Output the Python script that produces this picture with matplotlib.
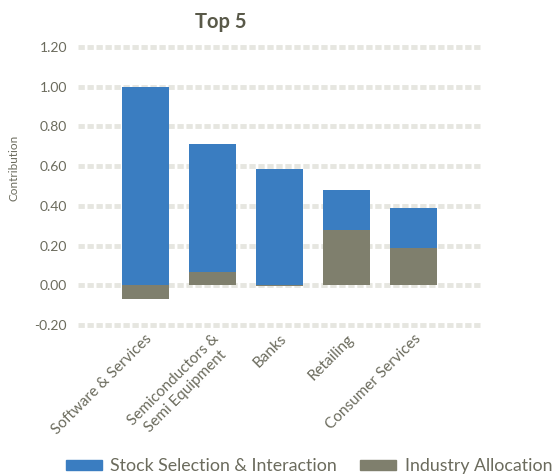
import matplotlib.pyplot as plt
from matplotlib.patches import Patch

categories = ["Software & Services", "Semiconductors &\nSemi Equipment", "Banks",
              "Retailing", "Consumer Services"]
stock_selection = [1.00, 0.645, 0.585, 0.20, 0.20]
industry_alloc = [-0.07, 0.065, -0.005, 0.28, 0.19]
y_ticks = [-0.20, 0.00, 0.20, 0.40, 0.60, 0.80, 1.00, 1.20]

blue = "#3a7dc1"
grey = "#7f7f6d"
text_col = "#6b6b5d"

plt.rcParams['font.family'] = ['Lato', 'DejaVu Sans']

fig = plt.figure(figsize=(5.54, 4.75), dpi=100)
ax = fig.add_axes([78 / 554, 1 - 325 / 475, 403 / 554, 278 / 475])

x = list(range(1, len(categories) + 1))
# excel-style stacking: negatives go below zero, positives on top of positive part
ind_pos = [max(v, 0) for v in industry_alloc]
ax.bar(x, industry_alloc, width=0.7, color=grey, zorder=2)
ax.bar(x, stock_selection, width=0.7, bottom=ind_pos, color=blue, zorder=2)

ax.set_xlim(0, 6)
ax.set_ylim(-0.2, 1.2)
ax.set_yticks(y_ticks)
ax.set_yticklabels(["%.2f" % t for t in y_ticks])
ax.set_xticks(x)
ax.set_xticklabels(categories, rotation=45, ha='right', rotation_mode='anchor',
                   multialignment='center', fontsize=11)

ax.yaxis.grid(True, color="#e6e6e0", linewidth=3.5, linestyle=(0, (1.3, 0.55)))
ax.set_axisbelow(True)
for gl in ax.get_ygridlines():
    gl.set_clip_on(False)

for s in ax.spines.values():
    s.set_visible(False)
ax.tick_params(length=0, colors=text_col)
ax.tick_params(axis='y', pad=8, labelsize=10)
ax.tick_params(axis='x', pad=5)

fig.text(221 / 554, 1 - 22 / 475, "Top 5", fontsize=14.5, fontweight='bold',
         color="#595949", ha='center', va='center')
fig.text(14 / 554, 1 - 168 / 475, "Contribution", rotation=90, fontsize=8.5,
         color=text_col, ha='center', va='center')

handles = [Patch(color=blue, label="Stock Selection & Interaction"),
           Patch(color=grey, label="Industry Allocation")]
fig.legend(handles=handles, loc='center left', bbox_to_anchor=(66 / 554, 1 - 466 / 475),
           ncol=2, frameon=False, fontsize=12.8, borderpad=0, borderaxespad=0,
           handlelength=2.0, handleheight=0.5, handletextpad=0.5,
           columnspacing=1.3, labelcolor=text_col)

fig.savefig("out.png", dpi=100)
